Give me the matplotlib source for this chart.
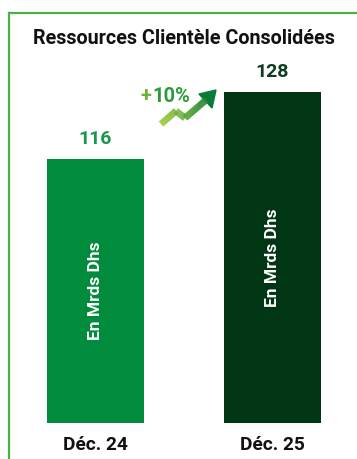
import numpy as np
import matplotlib
matplotlib.use("Agg")
import matplotlib.pyplot as plt
from matplotlib.collections import LineCollection
from matplotlib.patches import Polygon
from matplotlib.colors import LinearSegmentedColormap

# ---- data ----
categories = ["Déc. 24", "Déc. 25"]
values = [116, 128]
value_labels = ["116", "128"]
bar_colors = ["#008C3C", "#003613"]
label_colors = ["#17974A", "#0E3C1E"]
inner_label = "En Mrds Dhs"
title = "Ressources Clientèle Consolidées"
growth_label = "+10%"

W, H = 357, 459
plt.rcParams['font.family'] = ['Roboto', 'DejaVu Sans']
fig = plt.figure(figsize=(W / 100, H / 100), dpi=100)
fig.patch.set_facecolor("white")

def fx(x):
    return x / W

def fy(y):
    return 1 - y / H

# axes: bottom edge at the bar baseline
base = 68.7
ax = fig.add_axes([0, fy(423), 1, 423 / H])
x = np.arange(len(categories))
ax.bar(x, values, width=0.548, color=bar_colors)
ax.set_xlim(-0.5395, 1.477)
ax.set_ylim(base, base + 423 / 5.583)
ax.axis("off")

for xi, v, lab, c in zip(x, values, value_labels, label_colors):
    ax.annotate(lab, (xi, v), xytext=(0, 8), textcoords="offset points",
                ha="center", va="bottom", fontsize=14, fontweight="bold", color=c)
    ax.text(xi, (v + base) / 2, inner_label, rotation=90, ha="center", va="center",
            fontsize=12.5, fontweight="bold", color="white")
    ax.annotate(categories[xi], (xi, base), xytext=(0, -16), textcoords="offset points",
                ha="center", va="center", fontsize=13.8, fontweight="bold", color="#111111",
                annotation_clip=False)

# title
fig.text(fx(184), fy(38), title, ha="center", va="center", fontsize=14.2,
         fontweight="bold", color="#111111")

# frame (top and left border)
border = "#4DAE48"
fig.add_artist(plt.Line2D([fx(8.5), fx(357)], [fy(12.5), fy(12.5)], color=border, lw=1.6,
                          transform=fig.transFigure))
fig.add_artist(plt.Line2D([fx(8.5), fx(8.5)], [fy(12.5), fy(459)], color=border, lw=1.6,
                          transform=fig.transFigure))

# growth arrow (decorative)
cmap = LinearSegmentedColormap.from_list("g", ["#9CCB2C", "#0A7A38"])
pts = np.array([(161, 124), (176, 111), (185, 118), (206, 100)])
segs = []
cols = []
n = 40
for i in range(len(pts) - 1):
    for t in range(n):
        a = pts[i] + (pts[i + 1] - pts[i]) * t / n
        b = pts[i] + (pts[i + 1] - pts[i]) * (t + 1.3) / n
        segs.append([(fx(a[0]), fy(a[1])), (fx(b[0]), fy(b[1]))])
        cols.append(cmap(((a[0] + b[0]) / 2 - 161) / 53))
lc = LineCollection(segs, colors=cols, linewidths=4.8, transform=fig.transFigure,
                    capstyle="butt", joinstyle="miter")
fig.add_artist(lc)
head = Polygon([(fx(216), fy(90)), (fx(199), fy(94)), (fx(212), fy(108))], closed=True,
               color="#0A7A38", transform=fig.transFigure)
fig.add_artist(head)
fig.text(fx(151), fy(96), "+", ha="right", va="center", fontsize=14.5,
         fontweight="bold", color="#6DB33A")
fig.text(fx(152), fy(96), growth_label[1:], ha="left", va="center", fontsize=14.5,
         fontweight="bold", color="#2F9A3C")

fig.savefig("out.png", dpi=100, facecolor="white")
